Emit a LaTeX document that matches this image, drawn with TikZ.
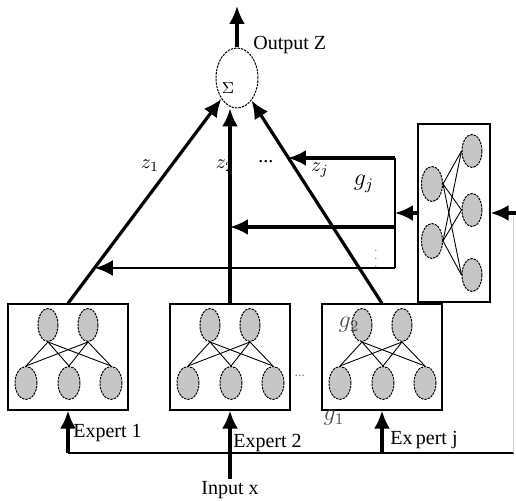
\documentclass[tikz,border=0pt]{standalone}
\usepackage{fontspec}
\setmainfont{Liberation Serif}
\usetikzlibrary{arrows.meta,shapes.geometric,calc,positioning}
\newcommand{\px}{0.5pt}
\tikzset{
    boxsty/.style={draw,line width=0.6pt,rectangle,minimum width=120*\px,minimum height=106*\px,anchor=center},
    gatesty/.style={draw,line width=0.6pt,rectangle,minimum width=72*\px,minimum height=178*\px,anchor=center},
    neursty/.style={draw,dash pattern=on 1.2pt off 0.5pt,line width=0.5pt,fill=gray!45,ellipse,minimum width=20*\px,minimum height=33*\px,inner sep=0pt},
    sumsty/.style={draw,dash pattern=on 1.2pt off 0.5pt,line width=0.5pt,ellipse,minimum width=42*\px,minimum height=60*\px,inner sep=0pt},
    linksty/.style={line width=0.45pt},
    flowsty/.style={-{Latex[length=9pt,width=8pt]},line width=1.6pt},
    bussty/.style={line width=1pt},
    labsty/.style={font=\fontsize{10}{12}\selectfont,inner sep=1pt},
    dotsty/.style={font=\fontsize{7}{8}\selectfont,text=gray,inner sep=0pt},
}

\begin{document}
\begin{tikzpicture}[x=\px,y=-\px]
  \useasboundingbox (0,0) rectangle (516,501);

  % summing unit
  \node[sumsty] (sum) at (237,78) {};
  \node[labsty,font=\fontsize{8}{9}\selectfont] (sig) at (228,88) {$\Sigma$};
  \coordinate (top) at (237,6);
  \draw[flowsty] (sum.north) -- (top);
  \node[labsty,anchor=west] (outlab) at (251,45) {Output Z};

  % expert networks
  \foreach \n/\x in {1/68,2/230,j/382}{
    \node[boxsty] (exp\n) at (\x,357) {};
    \node[neursty] (exp\n-t1) at (\x-20,325) {};
    \node[neursty] (exp\n-t2) at (\x+20,325) {};
    \node[neursty,minimum width=22*\px] (exp\n-b1) at (\x-42,383) {};
    \node[neursty,minimum width=22*\px] (exp\n-b2) at (\x+1,383) {};
    \node[neursty,minimum width=22*\px] (exp\n-b3) at (\x+43,383) {};
    \foreach \t in {1,2}
      \foreach \b in {1,2,3}
        \draw[linksty] (exp\n-t\t.south) -- (exp\n-b\b.north);
  }
  \node[dotsty] (edots) at (300,376) {...};

  % gating network
  \node[gatesty] (gate) at (454,213) {};
  \node[neursty,minimum width=21*\px,minimum height=35*\px] (gl1) at (432,184) {};
  \node[neursty,minimum width=21*\px,minimum height=35*\px] (gl2) at (432,241) {};
  \node[neursty,minimum width=20*\px,minimum height=33*\px] (gr1) at (472,151) {};
  \node[neursty,minimum width=20*\px,minimum height=33*\px] (gr2) at (472,210) {};
  \node[neursty,minimum width=20*\px,minimum height=33*\px] (gr3) at (472,275) {};
  \foreach \l in {1,2}
    \foreach \r in {1,2,3}
      \draw[linksty] (gl\l.east) -- (gr\r.west);

  % labels
  \node[labsty] (zone) at (150,166) {$z_1$};
  \node[labsty] (ztwo) at (225,166) {$z_2$};
  \node[labsty] (zdots) at (266,162) {...};
  \node[labsty] (zj) at (320,170) {$z_j$};
  \node[labsty,font=\large] (gj) at (364,184) {$g_j$};
  \node[labsty,font=\large,text=gray!60!black] (gtwo) at (349,325) {$g_2$};
  \node[labsty,font=\large,text=gray!60!black] (gone) at (334,418) {$g_1$};
  \node[dotsty,font=\fontsize{6}{7}\selectfont] (vdots) at (376,253) {$\vdots$};

  % expert outputs
  \draw[flowsty] (exp1.north) -- (sum);
  \draw[flowsty] (exp2.north) -- (exp2.north |- sum.south);
  \draw[flowsty] (expj.north) -- (sum);

  % gate outputs
  \coordinate (bus1) at (395,158);
  \coordinate (bus2) at (395,227);
  \coordinate (bus3) at (395,268);
  \coordinate (busg) at (395,213);
  \coordinate (hitj) at (288,158);
  \coordinate (hitone) at (95,268);
  \draw[flowsty] (gate.west) -- (busg);
  \draw[bussty] (bus1) -- (bus3);
  \draw[flowsty] (bus1) -- (hitj);
  \draw[flowsty] (bus2) -- (bus2 -| exp2.north);
  \draw[flowsty,line width=1.1pt] (bus3) -- (hitone);

  % input
  \node[labsty] (inp) at (230,490) {Input x};
  \coordinate (b1) at (68,453);
  \coordinate (bj) at (382,453);
  \coordinate (bend) at (514,453);
  \coordinate (rin) at (514,213);
  \coordinate (redge) at (516,213);
  \draw[bussty] (b1) -- (bend);
  \draw[gray!35,line width=0.5pt] (bend) -- (rin);
  \draw[flowsty] (redge) -- (gate.east);
  \draw[flowsty] (inp.north) -- (exp2.south);
  \draw[flowsty] (b1) -- (exp1.south);
  \draw[flowsty] (bj) -- (expj.south);
  \node[labsty,anchor=west] (labone) at (71,433) {Expert 1};
  \node[labsty,anchor=west] (labtwo) at (231,443) {Expert 2};
  \node[labsty,anchor=west] (labj) at (388,440) {Ex\,pert j};
\end{tikzpicture}
\end{document}
